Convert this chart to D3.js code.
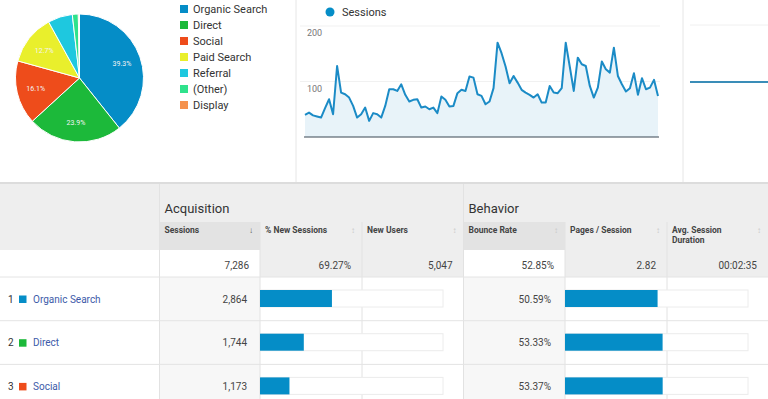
<!DOCTYPE html>
<meta charset="utf-8">
<style>
body { margin: 0; background: #fff; }
svg text { font-family: Roboto, "Noto Sans", sans-serif; }
</style>
<body>
<script src="https://cdn.jsdelivr.net/npm/d3@7/dist/d3.min.js"></script>
<script>

// ---- data ----
var channels = ["Organic Search", "Direct", "Social", "Paid Search", "Referral", "(Other)", "Display"];
var channelColors = ["#058dc7", "#1cb93a", "#ee4c1b", "#e9ef2c", "#1ec8df", "#2fe28c", "#f5924e"];
var pieShares = [39.3, 23.9, 16.1, 12.7, 6.2, 1.5, 0.3];

var sessionsDaily = [40, 44, 39, 37, 35, 52, 68, 41, 128, 80, 77, 71, 56, 35, 41, 53, 29, 43, 41, 35,
  56, 86, 86, 83, 95, 76, 64, 67, 68, 53, 55, 50, 53, 43, 73, 67, 55, 56, 79, 85,
  83, 109, 107, 77, 74, 59, 64, 88, 170, 151, 127, 97, 110, 98, 85, 80, 76, 71, 77, 62,
  62, 92, 80, 79, 88, 170, 127, 83, 143, 131, 128, 92, 71, 89, 136, 122, 116, 161, 110, 95,
  82, 88, 115, 76, 106, 86, 89, 103, 74];
var yTicks = [100, 200];
var sideSeries = [100, 100];

var groupHeaders = ["Acquisition", "Behavior"];
var columnHeaders = ["Sessions", "% New Sessions", "New Users", "Bounce Rate", "Pages / Session", "Avg. Session Duration"];
var totalsText = ["7,286", "69.27%", "5,047", "52.85%", "2.82", "00:02:35"];
var totalSessions = 7286;
var rowSessions = [2864, 1744, 1173];
var rowBounce = [50.59, 53.33, 53.37];

// ---- layout ----
var W = 768, H = 399;
var colEdges = [159.5, 260, 362, 463.5, 565, 667, 768];
var highlightCols = [0, 3];

var svg = d3.select("body").append("svg")
    .attr("width", W)
    .attr("height", H);

// ---------- pie ----------
var pieG = svg.append("g").attr("transform", "translate(79.5,78)");
var radius = 64;
var pie = d3.pie().sort(null).value(function(d) { return d; });
var arc = d3.arc().innerRadius(0).outerRadius(radius);
var labelArc = d3.arc().innerRadius(45).outerRadius(45);
var arcs = pie(pieShares);

pieG.selectAll("path")
    .data(arcs)
  .enter().append("path")
    .attr("d", arc)
    .attr("fill", function(d, i) { return channelColors[i]; })
    .attr("stroke", "#fff")
    .attr("stroke-width", 1);

pieG.selectAll("text")
    .data(arcs.filter(function(d) { return d.data > 10; }))
  .enter().append("text")
    .attr("transform", function(d) { return "translate(" + labelArc.centroid(d) + ")"; })
    .attr("text-anchor", "middle")
    .attr("dy", "0.35em")
    .style("font-size", "7px")
    .attr("fill", "#f4f4f4")
    .text(function(d) { return d.data.toFixed(1) + "%"; });

// legend
var legend = svg.append("g").attr("transform", "translate(180,0)");
var lg = legend.selectAll("g")
    .data(channels)
  .enter().append("g")
    .attr("transform", function(d, i) { return "translate(0," + (9 + i * 16) + ")"; });
lg.append("rect")
    .attr("x", 0).attr("y", -4)
    .attr("width", 8).attr("height", 8)
    .attr("fill", function(d, i) { return channelColors[i]; });
lg.append("text")
    .attr("x", 13).attr("dy", "0.35em")
    .style("font-size", "11px")
    .attr("fill", "#333")
    .text(function(d) { return d; });

// ---------- sessions line chart ----------
var x = d3.scaleLinear().domain([0, sessionsDaily.length - 1]).range([305, 658]);
var y = d3.scaleLinear().domain([0, 200]).range([137, 26]);

svg.selectAll(".grid")
    .data(yTicks)
  .enter().append("line")
    .attr("class", "grid")
    .attr("x1", 300).attr("x2", 660)
    .attr("y1", function(d) { return y(d); })
    .attr("y2", function(d) { return y(d); })
    .attr("stroke", "#f1f1f1");

svg.append("path")
    .datum(sessionsDaily)
    .attr("fill", "#e8f3f9")
    .attr("d", d3.area()
      .x(function(d, i) { return x(i); })
      .y0(y(0))
      .y1(function(d) { return y(d); }));

svg.append("path")
    .datum(sessionsDaily)
    .attr("fill", "none")
    .attr("stroke", "#1b8bc6")
    .attr("stroke-width", 2)
    .attr("stroke-linejoin", "round")
    .attr("d", d3.line()
      .x(function(d, i) { return x(i); })
      .y(function(d) { return y(d); }));

svg.append("line")
    .attr("x1", 304).attr("x2", 659)
    .attr("y1", y(0)).attr("y2", y(0))
    .attr("stroke", "#3a4652");

svg.selectAll(".ytick")
    .data(yTicks)
  .enter().append("text")
    .attr("class", "ytick")
    .attr("x", 307)
    .attr("y", function(d) { return y(d) + 10; })
    .style("font-size", "9px")
    .attr("fill", "#777")
    .text(function(d) { return d; });

svg.append("circle")
    .attr("cx", 330).attr("cy", 12).attr("r", 4.5)
    .attr("fill", "#058dc7");
svg.append("text")
    .attr("x", 342).attr("y", 12).attr("dy", "0.35em")
    .style("font-size", "11px")
    .attr("fill", "#333")
    .text("Sessions");

// separators of the top panels
[296, 683].forEach(function(px) {
  svg.append("line")
      .attr("x1", px).attr("x2", px)
      .attr("y1", 0).attr("y2", 182)
      .attr("stroke", "#e6e6e6");
});

// right-hand panel (cut off)
var xs = d3.scaleLinear().domain([0, sideSeries.length - 1]).range([690, 768]);
svg.append("line")
    .attr("x1", 690).attr("x2", 768).attr("y1", 25).attr("y2", 25)
    .attr("stroke", "#f0f0f0");
svg.append("path")
    .datum(sideSeries)
    .attr("fill", "none")
    .attr("stroke", "#3a8db8")
    .attr("stroke-width", 2)
    .attr("d", d3.line()
      .x(function(d, i) { return xs(i); })
      .y(function(d) { return 82 + (100 - d); }));

// ---------- table ----------
var table = svg.append("g");

table.append("rect")
    .attr("x", 0).attr("y", 182).attr("width", W).attr("height", 2)
    .attr("fill", "#dcdcdc");
table.append("rect")
    .attr("x", 0).attr("y", 184).attr("width", W).attr("height", 66)
    .attr("fill", "#eeeeee");

// header cells
var colIdx = d3.range(columnHeaders.length);
table.selectAll(".hcell")
    .data(colIdx)
  .enter().append("rect")
    .attr("x", function(i) { return colEdges[i]; })
    .attr("y", 222)
    .attr("width", function(i) { return colEdges[i + 1] - colEdges[i]; })
    .attr("height", 28)
    .attr("fill", function(i) { return highlightCols.indexOf(i) >= 0 ? "#e3e3e3" : "#eeeeee"; });

// totals row cells
table.append("rect")
    .attr("x", 0).attr("y", 250).attr("width", colEdges[0]).attr("height", 27)
    .attr("fill", "#fff");
table.selectAll(".tcell")
    .data(colIdx)
  .enter().append("rect")
    .attr("x", function(i) { return colEdges[i]; })
    .attr("y", 250)
    .attr("width", function(i) { return colEdges[i + 1] - colEdges[i]; })
    .attr("height", 27)
    .attr("fill", function(i) { return highlightCols.indexOf(i) >= 0 ? "#ffffff" : "#eeeeee"; });

// data row shading for highlighted columns
highlightCols.forEach(function(i) {
  table.append("rect")
      .attr("x", colEdges[i]).attr("y", 277)
      .attr("width", colEdges[i + 1] - colEdges[i]).attr("height", H - 277)
      .attr("fill", "#f7f7f7");
});

// vertical lines
table.selectAll(".vline")
    .data(colEdges.slice(0, -1))
  .enter().append("line")
    .attr("x1", function(d) { return d; })
    .attr("x2", function(d) { return d; })
    .attr("y1", function(d, i) { return (i === 0 || i === 3) ? 184 : 222; })
    .attr("y2", H)
    .attr("stroke", "#e2e2e2");

// group headers
table.selectAll(".group")
    .data(groupHeaders)
  .enter().append("text")
    .attr("x", function(d, i) { return colEdges[i * 3] + 5; })
    .attr("y", 213)
    .style("font-size", "13px")
    .attr("fill", "#333")
    .text(function(d) { return d; });

// column headers
table.selectAll(".colhead")
    .data(colIdx)
  .enter().append("text")
    .attr("x", function(i) { return colEdges[i] + 5; })
    .attr("y", 233)
    .style("font-size", "8.5px")
    .style("font-weight", "bold")
    .attr("fill", "#444")
    .each(function(i) {
      var words = columnHeaders[i];
      if (words === "Avg. Session Duration") {
        d3.select(this).append("tspan").attr("x", colEdges[i] + 5).text("Avg. Session");
        d3.select(this).append("tspan").attr("x", colEdges[i] + 5).attr("dy", 10).text("Duration");
      } else {
        d3.select(this).text(words);
      }
    });

// sort marks
table.selectAll(".sort")
    .data(colIdx)
  .enter().append("text")
    .attr("x", function(i) { return colEdges[i + 1] - 9; })
    .attr("y", 233)
    .attr("text-anchor", "middle")
    .style("font-size", "8px")
    .attr("fill", function(i) { return i === 0 ? "#555" : "#c8c8c8"; })
    .text(function(i) { return i === 0 ? "\u2193" : "\u2195"; });

// totals text
table.selectAll(".total")
    .data(totalsText)
  .enter().append("text")
    .attr("x", function(d, i) { return colEdges[i + 1] - 11; })
    .attr("y", 269)
    .attr("text-anchor", "end")
    .style("font-size", "10px")
    .attr("fill", "#444")
    .text(function(d) { return d; });

// row lines
var rowTop = 277, rowH = 43.7;
table.selectAll(".hline")
    .data(d3.range(rowSessions.length))
  .enter().append("line")
    .attr("x1", 0).attr("x2", W)
    .attr("y1", function(i) { return rowTop + i * rowH; })
    .attr("y2", function(i) { return rowTop + i * rowH; })
    .attr("stroke", "#e4e4e4");

var rows = table.selectAll(".row")
    .data(rowSessions)
  .enter().append("g")
    .attr("transform", function(d, i) { return "translate(0," + (rowTop + i * rowH + 22) + ")"; });

rows.append("text")
    .attr("x", 8).attr("dy", "0.35em")
    .style("font-size", "10px")
    .attr("fill", "#333")
    .text(function(d, i) { return i + 1; });
rows.append("rect")
    .attr("x", 19).attr("y", -3.5)
    .attr("width", 7.5).attr("height", 7.5)
    .attr("fill", function(d, i) { return channelColors[i]; });
rows.append("text")
    .attr("x", 33).attr("dy", "0.35em")
    .style("font-size", "10px")
    .attr("fill", "#3d5ba9")
    .text(function(d, i) { return channels[i]; });
rows.append("text")
    .attr("x", colEdges[1] - 13).attr("dy", "0.35em")
    .attr("text-anchor", "end")
    .style("font-size", "10px")
    .attr("fill", "#444")
    .text(function(d) { return d3.format(",")(d); });
rows.append("text")
    .attr("x", colEdges[4] - 14).attr("dy", "0.35em")
    .attr("text-anchor", "end")
    .style("font-size", "10px")
    .attr("fill", "#444")
    .text(function(d, i) { return rowBounce[i].toFixed(2) + "%"; });

// bars
var shareScale = d3.scaleLinear().domain([0, 1]).range([0, 183]);
var bounceScale = d3.scaleLinear().domain([0, 100]).range([0, 183]);

rows.append("rect")
    .attr("x", colEdges[1]).attr("y", -9)
    .attr("width", 183).attr("height", 17)
    .attr("fill", "#fff").attr("stroke", "#ececec");
rows.append("rect")
    .attr("x", colEdges[1]).attr("y", -9)
    .attr("width", function(d) { return shareScale(d / totalSessions); })
    .attr("height", 17)
    .attr("fill", "#058dc7");

rows.append("rect")
    .attr("x", colEdges[4]).attr("y", -9)
    .attr("width", 183).attr("height", 17)
    .attr("fill", "#fff").attr("stroke", "#ececec");
rows.append("rect")
    .attr("x", colEdges[4]).attr("y", -9)
    .attr("width", function(d, i) { return bounceScale(rowBounce[i]); })
    .attr("height", 17)
    .attr("fill", "#058dc7");

</script>
</body>
